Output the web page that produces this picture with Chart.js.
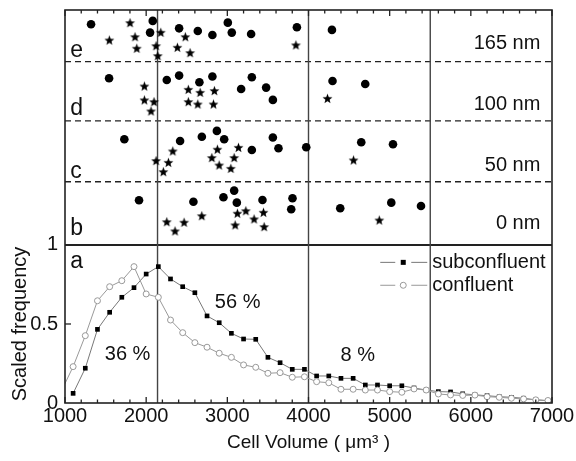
<!DOCTYPE html>
<html>
<head>
<meta charset="utf-8">
<script src="https://cdn.jsdelivr.net/npm/chart.js@4.4.1/dist/chart.umd.min.js"></script>
<style>
  html, body { margin: 0; padding: 0; background: #fff; }
</style>
</head>
<body>
<canvas id="chart" width="576" height="461"></canvas>
<script>
// histogram bins (cell volume, um^3) and scaled frequencies, panel a
const volumeBins = [950, 1100, 1250, 1400, 1550, 1700, 1850, 2000, 2150, 2300, 2450, 2600, 2750, 2900,
  3050, 3200, 3350, 3500, 3650, 3800, 3950, 4100, 4250, 4400, 4550, 4700, 4850, 5000, 5150,
  5300, 5450, 5600, 5750, 5900, 6050, 6200, 6350, 6500, 6650, 6800, 6950];
const subconfluent = [null, 0.061, 0.220, 0.466, 0.574, 0.669, 0.730, 0.816, 0.863, 0.785, 0.736, 0.698,
  0.551, 0.508, 0.441, 0.405, 0.403, 0.289, 0.255, 0.213, 0.213, 0.171, 0.171, 0.156, 0.156,
  0.114, 0.114, 0.109, 0.109, 0.095, 0.082, 0.072, 0.070, 0.058, 0.052, 0.046, 0.040, 0.036,
  0.030, 0.020, 0.014];
const confluent = [0.070, 0.230, 0.426, 0.647, 0.736, 0.774, 0.863, 0.690, 0.669, 0.525, 0.445, 0.382,
  0.353, 0.315, 0.289, 0.241, 0.226, 0.188, 0.192, 0.163, 0.166, 0.135, 0.128, 0.087, 0.087,
  0.082, 0.082, 0.072, 0.068, 0.089, 0.082, 0.057, 0.051, 0.048, 0.050, 0.040, 0.036, 0.030,
  0.026, 0.020, 0.016];

// strips b-e: [volume, level] for dots and stars
const eDots = [[1321, 2.397], [2081, 2.418], [2048, 2.344], [2406, 2.371], [2636, 2.354], [2816, 2.329],
  [3006, 2.407], [3055, 2.344], [3293, 2.335], [3857, 2.378], [4289, 2.361]];
const eStars = [[1801, 2.407], [1546, 2.297], [1863, 2.318], [2180, 2.346], [1884, 2.245], [2122, 2.261],
  [2143, 2.198], [2483, 2.318], [2385, 2.251], [2541, 2.217], [3845, 2.266]];
const dDots = [[1543, 2.055], [2254, 2.044], [2406, 2.072], [2656, 2.030], [2816, 2.066], [3170, 1.987],
  [3302, 2.061], [3478, 1.996], [3561, 1.918], [4296, 2.038], [4699, 2.019]];
const dStars = [[1978, 2.006], [1978, 1.918], [2097, 1.907], [2060, 1.848], [2520, 1.985], [2520, 1.907],
  [2665, 1.966], [2636, 1.892], [2841, 1.977], [2829, 1.892], [4234, 1.928]];
const cDots = [[1731, 1.669], [2418, 1.658], [2686, 1.685], [2871, 1.722], [2961, 1.669], [3302, 1.601],
  [3561, 1.680], [3630, 1.612], [3972, 1.618], [4650, 1.650], [5041, 1.637]];
const cStars = [[2328, 1.595], [2122, 1.534], [2274, 1.523], [2212, 1.464], [2878, 1.606], [3137, 1.618],
  [2809, 1.553], [2899, 1.506], [3084, 1.553], [3043, 1.485], [4555, 1.538]];
const bDots = [[1912, 1.283], [2582, 1.274], [2952, 1.302], [3084, 1.344], [3117, 1.268], [3433, 1.285],
  [3803, 1.296], [3787, 1.226], [4391, 1.232], [5020, 1.268], [5386, 1.247]];
const bStars = [[2254, 1.147], [2356, 1.089], [2467, 1.144], [2685, 1.185], [3124, 1.201], [3228, 1.217],
  [3330, 1.165], [3096, 1.127], [3445, 1.207], [3454, 1.116], [4872, 1.158]];

const stripEdges = [1.40, 1.785, 2.16];
const regionEdges = [2140, 4000, 5500];
const stripLetters = ['a', 'b', 'c', 'd', 'e'];
const sizeLabels = ['0 nm', '50 nm', '100 nm', '165 nm'];
const shareLabels = ['36 %', '56 %', '8 %'];
const seriesNames = ['subconfluent', 'confluent'];
const xTickValues = [1000, 1200, 1400, 1600, 1800, 2000, 2200, 2400, 2600, 2800, 3000, 3200, 3400, 3600,
  3800, 4000, 4200, 4400, 4600, 4800, 5000, 5200, 5400, 5600, 5800, 6000, 6200, 6400, 6600, 6800, 7000];
const yTickValues = [0, 0.5, 1];

const FONT = "'Liberation Sans', Arial, sans-serif";
const INK = '#111';

function pts(list) { return list.map(p => ({x: p[0], y: p[1]})); }
function curve(vals) {
  return volumeBins.map((v, i) => ({x: v, y: vals[i]})).filter(p => p.y !== null);
}

// filled five point star for the point style
function makeStar(r) {
  const c = document.createElement('canvas');
  const s = Math.ceil(r * 2) + 2;
  c.width = c.height = s;
  const g = c.getContext('2d');
  g.translate(s / 2, s / 2 + r * 0.1);
  g.beginPath();
  for (let i = 0; i < 10; i++) {
    const rad = i % 2 === 0 ? r : r * 0.42;
    const ang = -Math.PI / 2 + i * Math.PI / 5;
    g.lineTo(rad * Math.cos(ang), rad * Math.sin(ang));
  }
  g.closePath();
  g.fillStyle = '#000';
  g.fill();
  return c;
}
const starImg = makeStar(5.2);

const dotSet = list => ({data: pts(list), pointStyle: 'circle', pointRadius: 4.3,
  backgroundColor: '#000', borderColor: '#000', borderWidth: 0});
const starSet = list => ({data: pts(list), pointStyle: starImg, pointRadius: 5});

const panelPlugin = {
  id: 'panels',
  beforeDatasetsDraw(chart) {
    const {ctx, chartArea: a, scales: {x, y}} = chart;
    ctx.save();
    ctx.strokeStyle = '#222';
    ctx.lineWidth = 1.3;
    ctx.setLineDash([6, 4]);
    stripEdges.forEach(v => {
      const py = y.getPixelForValue(v);
      ctx.beginPath(); ctx.moveTo(a.left, py); ctx.lineTo(a.right, py); ctx.stroke();
    });
    ctx.setLineDash([]);
    ctx.lineWidth = 2.2;
    const p1 = y.getPixelForValue(1);
    ctx.beginPath(); ctx.moveTo(a.left, p1); ctx.lineTo(a.right, p1); ctx.stroke();
    ctx.strokeStyle = '#444';
    ctx.lineWidth = 1.4;
    regionEdges.forEach(v => {
      const px = x.getPixelForValue(v);
      ctx.beginPath(); ctx.moveTo(px, a.top); ctx.lineTo(px, a.bottom); ctx.stroke();
    });
    ctx.restore();
  },
  afterDatasetsDraw(chart) {
    const {ctx, chartArea: a, scales: {x, y}} = chart;
    ctx.save();
    ctx.fillStyle = INK;
    ctx.textBaseline = 'middle';

    // strip letters
    ctx.font = '23px ' + FONT;
    ctx.textAlign = 'left';
    const letterLevels = [0.896, 1.101, 1.462, 1.861, 2.228];
    stripLetters.forEach((t, i) => ctx.fillText(t, x.getPixelForValue(1065), y.getPixelForValue(letterLevels[i])));

    // particle sizes on the right
    ctx.font = '20px ' + FONT;
    ctx.textAlign = 'right';
    const sizeLevels = [1.139, 1.506, 1.892, 2.272];
    sizeLabels.forEach((t, i) => ctx.fillText(t, x.getPixelForValue(6857), y.getPixelForValue(sizeLevels[i])));

    // region shares
    ctx.textAlign = 'center';
    const shareAt = [[1771, 0.31], [3127, 0.636], [4607, 0.30]];
    shareLabels.forEach((t, i) => ctx.fillText(t, x.getPixelForValue(shareAt[i][0]), y.getPixelForValue(shareAt[i][1])));

    // legend
    const lx = x.getPixelForValue(5500) - 50;
    const rows = [y.getPixelForValue(0.89), y.getPixelForValue(0.745)];
    ctx.textAlign = 'left';
    rows.forEach((ry, i) => {
      ctx.strokeStyle = i === 0 ? '#777' : '#999';
      ctx.lineWidth = 1;
      ctx.beginPath(); ctx.moveTo(lx, ry); ctx.lineTo(lx + 15, ry); ctx.moveTo(lx + 31, ry); ctx.lineTo(lx + 47, ry); ctx.stroke();
      if (i === 0) {
        ctx.fillStyle = '#000';
        ctx.fillRect(lx + 20.5, ry - 2.5, 5, 5);
      } else {
        ctx.fillStyle = '#fff';
        ctx.beginPath(); ctx.arc(lx + 23, ry, 3, 0, Math.PI * 2); ctx.fill(); ctx.stroke();
      }
      ctx.fillStyle = INK;
      ctx.fillText(seriesNames[i], lx + 52, ry);
    });

    // y title centred on panel a
    ctx.save();
    ctx.translate(20, y.getPixelForValue(0.5));
    ctx.rotate(-Math.PI / 2);
    ctx.textAlign = 'center';
    ctx.font = '20px ' + FONT;
    ctx.fillText('Scaled frequency', 0, 0);
    ctx.restore();

    // inward ticks
    ctx.strokeStyle = '#222';
    ctx.lineWidth = 1.3;
    x.ticks.forEach(t => {
      const px = x.getPixelForValue(t.value);
      const len = t.value % 1000 === 0 ? 6 : 3.5;
      ctx.beginPath();
      ctx.moveTo(px, a.bottom); ctx.lineTo(px, a.bottom - len);
      ctx.moveTo(px, a.top); ctx.lineTo(px, a.top + len);
      ctx.stroke();
    });
    const p05 = y.getPixelForValue(0.5);
    ctx.beginPath(); ctx.moveTo(a.left, p05); ctx.lineTo(a.left + 6, p05); ctx.stroke();

    // frame
    ctx.lineWidth = 1.6;
    ctx.strokeRect(a.left, a.top, a.right - a.left, a.bottom - a.top);
    ctx.restore();
  }
};

new Chart(document.getElementById('chart'), {
  type: 'scatter',
  data: {
    datasets: [
      {data: curve(confluent), showLine: true, borderColor: '#999', borderWidth: 1,
        pointStyle: 'circle', pointRadius: 3, backgroundColor: '#fff', pointBorderColor: '#999',
        pointBorderWidth: 1, clip: 0},
      {data: curve(subconfluent), showLine: true, borderColor: '#777', borderWidth: 1,
        pointStyle: 'rect', pointRadius: 3.3, backgroundColor: '#000', pointBorderColor: '#000',
        pointBorderWidth: 0, clip: 0},
      dotSet(bDots), starSet(bStars),
      dotSet(cDots), starSet(cStars),
      dotSet(dDots), starSet(dStars),
      dotSet(eDots), starSet(eStars)
    ]
  },
  options: {
    responsive: false,
    animation: false,
    events: [],
    layout: {padding: {top: 10, right: 24, left: 0, bottom: 0}},
    plugins: {legend: {display: false}, tooltip: {enabled: false}},
    scales: {
      x: {
        type: 'linear', min: 1000, max: 7000,
        afterBuildTicks: s => { s.ticks = xTickValues.map(v => ({value: v})); },
        afterFit: s => { s.height = 58; },
        ticks: {autoSkip: false, maxRotation: 0, padding: 1, color: INK,
          font: {family: FONT, size: 20},
          callback: v => (v % 1000 === 0 ? String(v) : '')},
        grid: {display: false, drawTicks: false},
        border: {display: false},
        title: {display: true, text: 'Cell Volume ( μm³ )', color: INK,
          font: {family: FONT, size: 19}, padding: {top: 0, bottom: 7}}
      },
      y: {
        type: 'linear', min: 0, max: 2.487,
        afterBuildTicks: s => { s.ticks = yTickValues.map(v => ({value: v})); },
        afterFit: s => { s.width = 65; s.paddingTop = 0; s.paddingBottom = 0; },
        ticks: {padding: 7, color: INK, font: {family: FONT, size: 20},
          callback: v => String(v)},
        grid: {display: false, drawTicks: false},
        border: {display: false}
      }
    }
  },
  plugins: [panelPlugin]
});
</script>
</body>
</html>
